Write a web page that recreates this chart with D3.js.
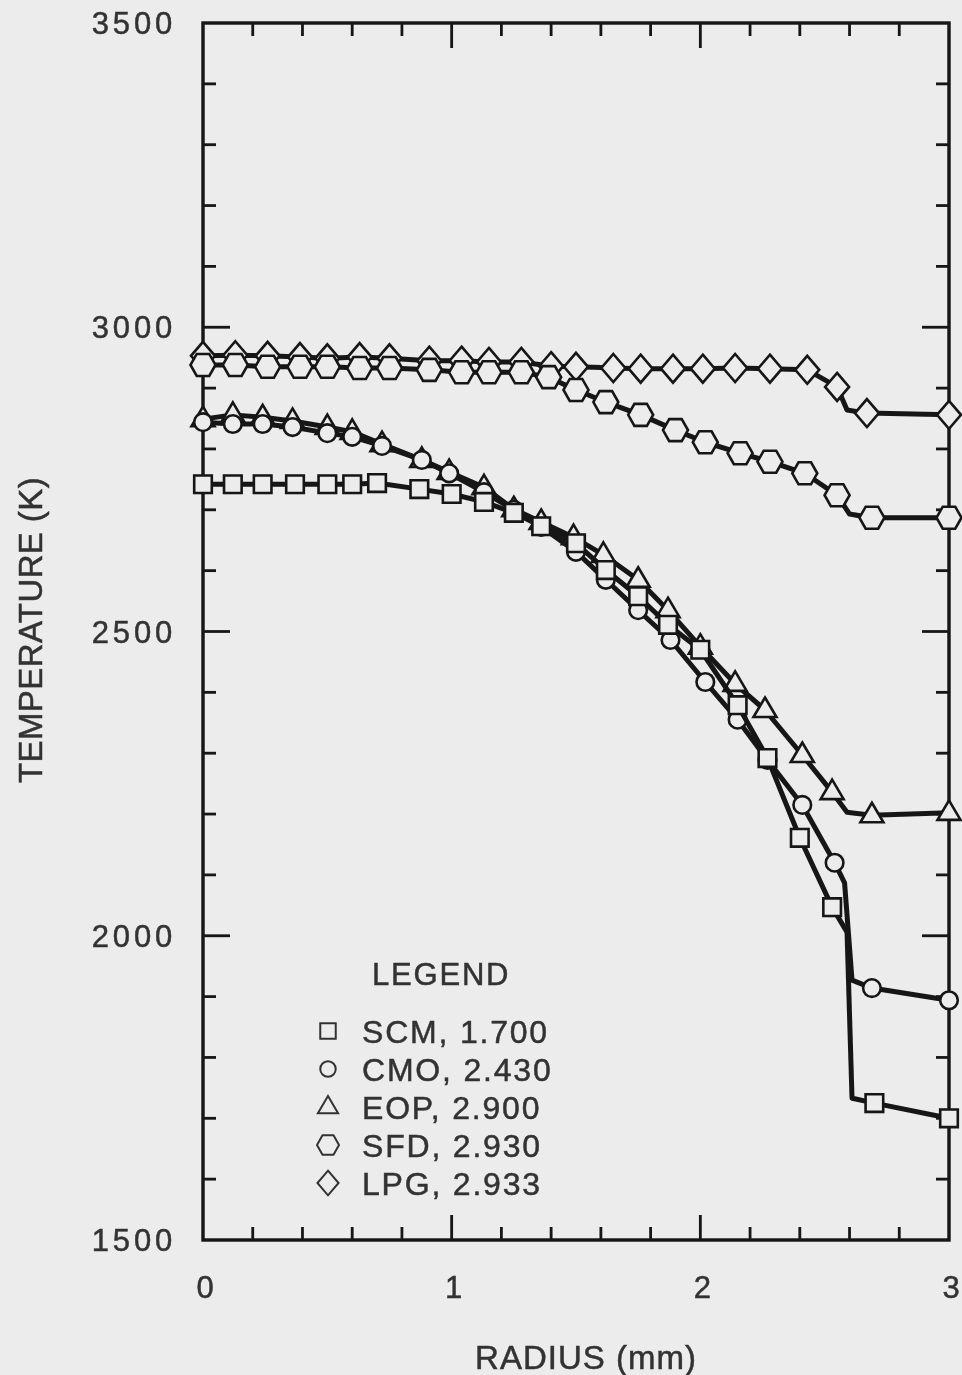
<!DOCTYPE html>
<html>
<head>
<meta charset="utf-8">
<script src="https://cdn.jsdelivr.net/npm/d3@7"></script>
<style>
  html, body { margin: 0; padding: 0; background: #ececec; }
  svg { display: block; }
  text { font-family: "Liberation Sans", Arial, Helvetica, sans-serif; }
</style>
</head>
<body>
<svg id="chart" width="962" height="1375"></svg>
<script>
// Radial temperature profiles (radius in mm, temperature in K)
const scmR = [0, 0.12, 0.24, 0.37, 0.50, 0.60, 0.70, 0.87, 1.00, 1.13, 1.25, 1.36, 1.50, 1.62, 1.75, 1.87, 2.00, 2.15, 2.27, 2.40, 2.53, 2.59, 2.61, 2.70, 3.00];
const scmT = [2742, 2742, 2742, 2742, 2742, 2742, 2744, 2734, 2726, 2713, 2695, 2673, 2645, 2601, 2558, 2511, 2470, 2379, 2292, 2161, 2047, 2006, 1733, 1725, 1700];
const scmBare = [2.59, 2.61];

const cmoR = [0, 0.12, 0.24, 0.36, 0.50, 0.60, 0.72, 0.88, 0.99, 1.13, 1.25, 1.36, 1.50, 1.62, 1.75, 1.88, 2.02, 2.15, 2.27, 2.41, 2.54, 2.58, 2.61, 2.69, 3.00];
const cmoT = [2844, 2841, 2841, 2836, 2826, 2820, 2805, 2782, 2760, 2729, 2700, 2672, 2631, 2585, 2535, 2486, 2417, 2355, 2289, 2215, 2120, 2087, 1927, 1914, 1894];
const cmoBare = [2.58, 2.61];

const eopR = [0, 0.12, 0.24, 0.36, 0.50, 0.60, 0.72, 0.88, 0.99, 1.13, 1.25, 1.36, 1.49, 1.61, 1.75, 1.87, 2.00, 2.14, 2.26, 2.41, 2.53, 2.59, 2.69, 3.00];
const eopT = [2849, 2856, 2852, 2846, 2836, 2828, 2808, 2782, 2762, 2737, 2701, 2680, 2655, 2626, 2585, 2535, 2475, 2414, 2371, 2297, 2236, 2203, 2198, 2202];
const eopBare = [2.59];

const sfdR = [0, 0.13, 0.26, 0.39, 0.50, 0.63, 0.75, 0.91, 1.04, 1.15, 1.28, 1.39, 1.50, 1.62, 1.76, 1.90, 2.02, 2.16, 2.28, 2.42, 2.55, 2.60, 2.69, 3.00];
const sfdT = [2938, 2938, 2935, 2935, 2935, 2933, 2933, 2930, 2926, 2926, 2926, 2918, 2897, 2877, 2856, 2831, 2811, 2793, 2779, 2760, 2724, 2693, 2687, 2687];
const sfdBare = [2.60];

const lpgR = [0, 0.13, 0.26, 0.39, 0.50, 0.63, 0.75, 0.91, 1.04, 1.15, 1.28, 1.40, 1.50, 1.65, 1.76, 1.89, 2.01, 2.14, 2.28, 2.43, 2.55, 2.59, 2.67, 3.00];
const lpgT = [2953, 2954, 2953, 2951, 2949, 2951, 2949, 2945, 2945, 2943, 2943, 2936, 2935, 2933, 2932, 2932, 2932, 2933, 2932, 2930, 2902, 2864, 2859, 2856];
const lpgBare = [2.59];

const legendNames = ["SCM, 1.700", "CMO, 2.430", "EOP, 2.900", "SFD, 2.930", "LPG, 2.933"];
const legendShapes = ["square", "circle", "triangle", "hexagon", "diamond"];

const xTickLabels = [0, 1, 2, 3];
const yTickLabels = [1500, 2000, 2500, 3000, 3500];

const BG = "#ececec";
const INK = "#161616";
const TEXT = "#333333";

const svg = d3.select("#chart");
svg.append("rect").attr("width", 962).attr("height", 1375).attr("fill", BG);

const defs = svg.append("defs");
defs.append("filter").attr("id", "soft")
  .append("feGaussianBlur").attr("stdDeviation", 0.55);

const root = svg.append("g").attr("filter", "url(#soft)");

const x = d3.scaleLinear().domain([0, 3]).range([203, 949]);
const y = d3.scaleLinear().domain([1500, 3500]).range([1240, 23]);

// marker outlines, centred on the data point
function shapePath(kind, s) {
  s = s || 1;
  const p = d3.path();
  if (kind === "square") {
    const h = 8.8 * s; p.rect(-h, -h, 2 * h, 2 * h);
  } else if (kind === "circle") {
    const r = 8.8 * s; p.moveTo(r, 0); p.arc(0, 0, r, 0, 2 * Math.PI);
  } else if (kind === "triangle") {
    const w = 11.5 * s; p.moveTo(0, -12.5 * s); p.lineTo(w, 7 * s); p.lineTo(-w, 7 * s); p.closePath();
  } else if (kind === "hexagon") {
    const w = 12.5 * s, h = 11 * s;
    p.moveTo(-w, 0); p.lineTo(-w / 2, -h); p.lineTo(w / 2, -h); p.lineTo(w, 0); p.lineTo(w / 2, h); p.lineTo(-w / 2, h); p.closePath();
  } else if (kind === "diamond") {
    const w = 12 * s, h = 14 * s;
    p.moveTo(0, -h); p.lineTo(w, 0); p.lineTo(0, h); p.lineTo(-w, 0); p.closePath();
  }
  return p.toString();
}

// ---- axes frame with inward ticks on all four sides ----
const axes = root.append("g");

const xMinor = d3.range(0, 3.0001, 0.2).map(v => +v.toFixed(1));
const yMinor = d3.range(1500, 3501, 100);

function isMajorX(v) { return Math.abs(v - Math.round(v)) < 1e-6; }
function isMajorY(v) { return v % 500 === 0; }

// bottom and top ticks
[[1240, -1], [23, 1]].forEach(([yy, dir]) => {
  axes.selectAll(null).data(xMinor.filter(v => v > 0 && v < 3)).enter().append("line")
    .attr("x1", d => x(d)).attr("x2", d => x(d))
    .attr("y1", yy).attr("y2", d => yy + dir * (isMajorX(d) ? 25 : 13))
    .attr("stroke", INK).attr("stroke-width", 2.8);
});
// left and right ticks
[[203, 1], [949, -1]].forEach(([xx, dir]) => {
  axes.selectAll(null).data(yMinor.filter(v => v > 1500 && v < 3500)).enter().append("line")
    .attr("y1", d => y(d)).attr("y2", d => y(d))
    .attr("x1", xx).attr("x2", d => xx + dir * (isMajorY(d) ? 27 : 13))
    .attr("stroke", INK).attr("stroke-width", 2.8);
});

axes.append("rect")
  .attr("x", x(0)).attr("y", y(3500))
  .attr("width", x(3) - x(0)).attr("height", y(1500) - y(3500))
  .attr("fill", "none").attr("stroke", INK).attr("stroke-width", 3.4);

// tick labels
root.append("g").selectAll("text").data(yTickLabels).enter().append("text")
  .attr("x", 176).attr("y", d => y(d) + 11)
  .attr("text-anchor", "end")
  .attr("font-size", 31).attr("letter-spacing", 3.8)
  .attr("fill", TEXT).attr("stroke", TEXT).attr("stroke-width", 0.5)
  .text(d => d);

root.append("g").selectAll("text").data(xTickLabels).enter().append("text")
  .attr("x", d => x(d) + 2).attr("y", 1298)
  .attr("text-anchor", "middle")
  .attr("font-size", 31)
  .attr("fill", TEXT).attr("stroke", TEXT).attr("stroke-width", 0.5)
  .text(d => d);

// axis titles
root.append("text")
  .attr("x", 586).attr("y", 1369)
  .attr("text-anchor", "middle")
  .attr("font-size", 33).attr("letter-spacing", 1)
  .attr("fill", TEXT).attr("stroke", TEXT).attr("stroke-width", 0.5)
  .text("RADIUS (mm)");

root.append("text")
  .attr("transform", "translate(42,630) rotate(-90)")
  .attr("text-anchor", "middle")
  .attr("font-size", 33).attr("letter-spacing", 0.4)
  .attr("fill", TEXT).attr("stroke", TEXT).attr("stroke-width", 0.5)
  .text("TEMPERATURE (K)");

// ---- series ----
const series = [
  { r: eopR, t: eopT, bare: eopBare, shape: "triangle" },
  { r: cmoR, t: cmoT, bare: cmoBare, shape: "circle" },
  { r: scmR, t: scmT, bare: scmBare, shape: "square" },
  { r: lpgR, t: lpgT, bare: lpgBare, shape: "diamond" },
  { r: sfdR, t: sfdT, bare: sfdBare, shape: "hexagon" }
];

const line = d3.line().x(d => x(d[0])).y(d => y(d[1]));
const plot = root.append("g");

series.forEach(s => {
  const pts = s.r.map((r, i) => [r, s.t[i]]);
  const g = plot.append("g");
  g.append("path").datum(pts)
    .attr("d", line)
    .attr("fill", "none").attr("stroke", INK)
    .attr("stroke-width", 5).attr("stroke-linejoin", "round");
  g.selectAll("path.mk").data(pts.filter(p => !s.bare.includes(p[0]))).enter().append("path")
    .attr("class", "mk")
    .attr("transform", d => `translate(${x(d[0])},${y(d[1])})`)
    .attr("d", shapePath(s.shape))
    .attr("fill", BG).attr("stroke", INK).attr("stroke-width", 2.6)
    .attr("stroke-linejoin", "miter");
});

// ---- legend ----
const legend = root.append("g");
legend.append("text")
  .attr("x", 372).attr("y", 985)
  .attr("font-size", 31).attr("letter-spacing", 1.8)
  .attr("fill", TEXT).attr("stroke", TEXT).attr("stroke-width", 0.5)
  .text("LEGEND");

const rows = legend.selectAll("g.row").data(legendNames).enter().append("g")
  .attr("class", "row")
  .attr("transform", (d, i) => `translate(0,${1031 + i * 38})`);

rows.append("path")
  .attr("transform", "translate(328,0)")
  .attr("d", (d, i) => shapePath(legendShapes[i], 0.88))
  .attr("fill", "none").attr("stroke", TEXT).attr("stroke-width", 2);

rows.append("text")
  .attr("x", 362).attr("y", 11.5)
  .attr("font-size", 32).attr("letter-spacing", 1.8)
  .attr("fill", TEXT).attr("stroke", TEXT).attr("stroke-width", 0.5)
  .text(d => d);
</script>
</body>
</html>
